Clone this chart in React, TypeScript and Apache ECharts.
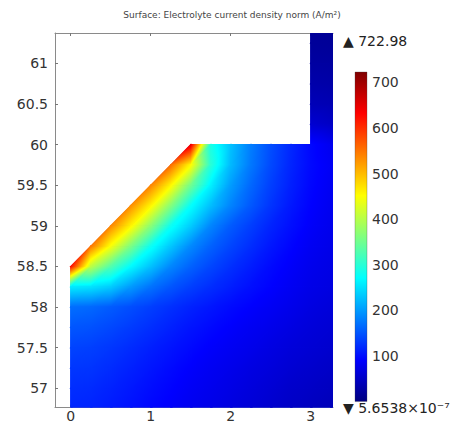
import React, { useEffect, useRef } from 'react';
import * as echarts from 'echarts';

const N = null;
// mesh node coordinates (m)
const xNodes = [0, 0.25, 0.5, 0.75, 1, 1.25, 1.5, 1.75, 2, 2.25, 2.5, 2.75, 3, 3.25, 3.5];
const yNodesTopDown = [61.5, 61.25, 61, 60.75, 60.5, 60.25, 60, 59.75, 59.5, 59.25, 59, 58.75, 58.5, 58.25, 58, 57.75, 57.5, 57.25, 57, 56.75, 56.5];
// electrolyte current density norm (A/m^2) at the nodes, rows from top to bottom
const currentDensity: (number | null)[][] = [
  [N, N, N, N, N, N, N, N, N, N, N, N, 16, 15, 15],
  [N, N, N, N, N, N, N, N, N, N, N, N, 19, 18, 18],
  [N, N, N, N, N, N, N, N, N, N, N, N, 24, 23, 22],
  [N, N, N, N, N, N, N, N, N, N, N, N, 31, 29, 28],
  [N, N, N, N, N, N, N, N, N, N, N, N, 40, 37, 35],
  [N, N, N, N, N, N, N, N, N, N, N, N, 58, 50, 48],
  [N, N, N, N, N, N, 650, 290, 228, 180, 145, 118, 95, 80, 76],
  [N, N, N, N, N, 555, 455, 300, 222, 176, 142, 116, 96, 84, 79],
  [N, N, N, N, 538, 458, 352, 262, 202, 164, 135, 112, 94, 82, 77],
  [N, N, N, 532, 460, 366, 275, 226, 184, 153, 127, 107, 91, 80, 75],
  [N, N, 536, 460, 370, 280, 236, 185, 155, 134, 115, 100, 87, 78, 73],
  [N, 548, 448, 360, 280, 232, 188, 160, 139, 122, 106, 93, 82, 75, 71],
  [625, 405, 330, 270, 228, 186, 160, 140, 124, 110, 97, 87, 78, 72, 68],
  [258, 252, 236, 200, 172, 151, 135, 122, 111, 100, 91, 82, 74, 69, 66],
  [168, 164, 155, 145, 134, 124, 114, 105, 97, 90, 83, 76, 69, 64, 62],
  [151, 148, 141, 132, 123, 113, 104, 96, 89, 82, 76, 70, 64, 60, 58],
  [138, 135, 129, 121, 112, 104, 96, 88, 82, 76, 70, 64, 60, 56, 54],
  [129, 127, 121, 113, 105, 97, 89, 82, 76, 70, 65, 59, 55, 51, 49],
  [122, 120, 114, 107, 99, 92, 84, 78, 72, 66, 60, 54, 50, 46, 44],
  [117, 115, 109, 102, 94, 87, 80, 74, 68, 62, 56, 50, 45, 41, 39],
  [113, 110, 104, 97, 90, 83, 77, 70, 64, 58, 52, 47, 42, 38, 36],
];
// electrolyte domain outline
const domainOutline = [[0, 56.5], [3.5, 56.5], [3.5, 61.5], [3, 61.5], [3, 60], [1.5, 60], [0, 58.5]];
const colorRange = [5.6538e-7, 722.98];
const xTicks = [0, 1, 2, 3];
const yTicks = [57, 57.5, 58, 58.5, 59, 59.5, 60, 60.5, 61];
const colorbarTicks = [100, 200, 300, 400, 500, 600, 700];
const jetPositions = [0, 0.125, 0.375, 0.625, 0.875, 1];
const jetColors = ['#00007f', '#0000ff', '#00ffff', '#ffff00', '#ff0000', '#7f0000'];

const FONT = 'DejaVu Sans';

function hexToRgb(h: string) {
  return [parseInt(h.slice(1, 3), 16), parseInt(h.slice(3, 5), 16), parseInt(h.slice(5, 7), 16)];
}
const jetRgb = jetColors.map(hexToRgb);

function jet(v: number) {
  let t = (v - colorRange[0]) / (colorRange[1] - colorRange[0]);
  t = Math.max(0, Math.min(1, t));
  let i = 0;
  while (i < jetPositions.length - 2 && t > jetPositions[i + 1]) i++;
  const f = (t - jetPositions[i]) / (jetPositions[i + 1] - jetPositions[i]);
  const a = jetRgb[i], b = jetRgb[i + 1];
  const c = [0, 1, 2].map((k) => Math.round(a[k] + (b[k] - a[k]) * f));
  return `rgb(${c[0]},${c[1]},${c[2]})`;
}

function insideDomain(x: number, y: number) {
  let inside = false;
  const poly = domainOutline;
  for (let i = 0, j = poly.length - 1; i < poly.length; j = i++) {
    const xi = poly[i][0], yi = poly[i][1], xj = poly[j][0], yj = poly[j][1];
    if ((yi > y) !== (yj > y) && x < ((xj - xi) * (y - yi)) / (yj - yi) + xi) inside = !inside;
  }
  return inside;
}

function buildTriangles() {
  const tris: number[][] = [];
  for (let r = 0; r < yNodesTopDown.length - 1; r++) {
    for (let c = 0; c < xNodes.length - 1; c++) {
      const BL = [xNodes[c], yNodesTopDown[r + 1], currentDensity[r + 1][c]];
      const BR = [xNodes[c + 1], yNodesTopDown[r + 1], currentDensity[r + 1][c + 1]];
      const TL = [xNodes[c], yNodesTopDown[r], currentDensity[r][c]];
      const TR = [xNodes[c + 1], yNodesTopDown[r], currentDensity[r][c + 1]];
      for (const tri of [[BL, BR, TR], [BL, TR, TL]]) {
        if (tri.some((p) => p[2] === null)) continue;
        const cx = ((tri[0][0] as number) + (tri[1][0] as number) + (tri[2][0] as number)) / 3;
        const cy = ((tri[0][1] as number) + (tri[1][1] as number) + (tri[2][1] as number)) / 3;
        if (!insideDomain(cx, cy)) continue;
        tris.push([...tri[0], ...tri[1], ...tri[2]] as number[]);
      }
    }
  }
  return tris;
}

function triangleFill(P: number[][], V: number[]) {
  const [x0, y0] = P[0], [x1, y1] = P[1], [x2, y2] = P[2];
  const det = (x1 - x0) * (y2 - y0) - (x2 - x0) * (y1 - y0);
  const vmin = Math.min(...V), vmax = Math.max(...V);
  if (Math.abs(det) < 1e-9 || vmax - vmin < 1e-6) return jet(V[0]);
  const a = ((V[1] - V[0]) * (y2 - y0) - (V[2] - V[0]) * (y1 - y0)) / det;
  const b = ((x1 - x0) * (V[2] - V[0]) - (x2 - x0) * (V[1] - V[0])) / det;
  const g2 = a * a + b * b;
  const im = V.indexOf(vmin);
  const sx = P[im][0], sy = P[im][1];
  const ex = sx + (a * (vmax - vmin)) / g2, ey = sy + (b * (vmax - vmin)) / g2;
  const stops: { offset: number; color: string }[] = [{ offset: 0, color: jet(vmin) }];
  for (const p of jetPositions) {
    const kv = colorRange[0] + p * (colorRange[1] - colorRange[0]);
    if (kv > vmin && kv < vmax) stops.push({ offset: (kv - vmin) / (vmax - vmin), color: jet(kv) });
  }
  stops.push({ offset: 1, color: jet(vmax) });
  return new echarts.graphic.LinearGradient(sx, sy, ex, ey, stops, true);
}

export default function App() {
  const ref = useRef<HTMLDivElement>(null);
  useEffect(() => {
    if (!ref.current) return;
    const chart = echarts.init(ref.current, null, { renderer: 'svg' });
    const triangles = buildTriangles();
    const labelStyle = { fontSize: 14, color: '#333', fontFamily: FONT };
    chart.setOption({
      animation: false,
      textStyle: { fontFamily: FONT },
      grid: [
        { left: 55, right: 121, top: 33, bottom: 25.5 },
        { left: 355, width: 12, top: 72, height: 329.6 },
      ],
      xAxis: [
        {
          type: 'value', gridIndex: 0, min: -0.196, max: 3.279, position: 'bottom',
          axisLine: { show: true, onZero: false, lineStyle: { color: '#8a8a8a', width: 1 } },
          axisTick: { show: true, inside: true, length: 3, customValues: xTicks, lineStyle: { color: '#777' } },
          axisLabel: { customValues: xTicks, margin: 1, ...labelStyle },
          splitLine: { show: false },
        },
        {
          type: 'value', gridIndex: 0, min: -0.196, max: 3.279, position: 'top',
          axisLine: { show: true, onZero: false, lineStyle: { color: '#8a8a8a', width: 1 } },
          axisTick: { show: true, inside: true, length: 3, customValues: xTicks, lineStyle: { color: '#777' } },
          axisLabel: { show: false },
          splitLine: { show: false },
        },
        { type: 'value', gridIndex: 1, min: 0, max: 1, show: false },
      ],
      yAxis: [
        {
          type: 'value', gridIndex: 0, min: 56.764, max: 61.373, position: 'left',
          axisLine: { show: true, onZero: false, lineStyle: { color: '#8a8a8a', width: 1 } },
          axisTick: { show: true, inside: true, length: 3, customValues: yTicks, lineStyle: { color: '#777' } },
          axisLabel: { customValues: yTicks, margin: 7, ...labelStyle },
          splitLine: { show: false },
        },
        {
          type: 'value', gridIndex: 1, min: colorRange[0], max: colorRange[1], position: 'right',
          axisLine: { show: false },
          axisTick: { show: true, length: 2, customValues: colorbarTicks, lineStyle: { color: '#555' } },
          axisLabel: { customValues: colorbarTicks, margin: 5, ...labelStyle },
          splitLine: { show: false },
        },
      ],
      series: [
        {
          type: 'custom',
          name: 'domain backdrop',
          xAxisIndex: 0,
          yAxisIndex: 0,
          clip: true,
          data: [0],
          renderItem: (params: any, api: any) => ({
            type: 'polygon',
            shape: { points: domainOutline.map((p) => api.coord(p)) },
            style: { fill: jet(110), stroke: 'none' },
          }),
        },
        {
          type: 'custom',
          name: 'Electrolyte current density norm',
          xAxisIndex: 0,
          yAxisIndex: 0,
          clip: true,
          dimensions: ['x0', 'y0', 'v0', 'x1', 'y1', 'v1', 'x2', 'y2', 'v2'],
          encode: { x: [0, 3, 6], y: [1, 4, 7] },
          data: triangles,
          renderItem: (params: any, api: any) => {
            const P: number[][] = [];
            const V: number[] = [];
            for (let k = 0; k < 3; k++) {
              P.push(api.coord([api.value(3 * k), api.value(3 * k + 1)]));
              V.push(api.value(3 * k + 2));
            }
            const fill = triangleFill(P, V);
            return {
              type: 'polygon',
              shape: { points: P },
              style: { fill, stroke: fill, lineWidth: 1.1 },
            };
          },
        },
        {
          type: 'custom',
          name: 'colorbar',
          xAxisIndex: 2,
          yAxisIndex: 1,
          data: [[0, colorRange[0], 1, colorRange[1]]],
          renderItem: (params: any, api: any) => {
            const p0 = api.coord([api.value(0), api.value(1)]);
            const p1 = api.coord([api.value(2), api.value(3)]);
            const stops = jetPositions.map((p, i) => ({ offset: p, color: jetColors[i] }));
            return {
              type: 'rect',
              shape: { x: p0[0], y: p1[1], width: p1[0] - p0[0], height: p0[1] - p1[1] },
              style: {
                fill: new echarts.graphic.LinearGradient(0, 1, 0, 0, stops),
                stroke: 'rgba(70,70,70,0.6)',
                lineWidth: 0.5,
              },
            };
          },
        },
      ],
      graphic: [
        {
          type: 'text', x: 232, y: 15,
          style: { text: 'Surface: Electrolyte current density norm (A/m²)', fontSize: 9, fill: '#444', fontFamily: FONT, align: 'center', verticalAlign: 'middle' },
        },
        {
          type: 'text', x: 343, y: 41,
          style: { text: '▲ ' + colorRange[1].toFixed(2), fontSize: 14, fill: '#222', fontFamily: FONT, align: 'left', verticalAlign: 'middle' },
        },
        {
          type: 'text', x: 343, y: 408,
          style: { text: '▼ 5.6538×10⁻⁷', fontSize: 14, fill: '#222', fontFamily: FONT, align: 'left', verticalAlign: 'middle' },
        },
      ],
    });
    return () => chart.dispose();
  }, []);
  return <div ref={ref} style={{ position: 'fixed', left: 0, top: 0, width: 454, height: 433, background: '#fff' }} />;
}
